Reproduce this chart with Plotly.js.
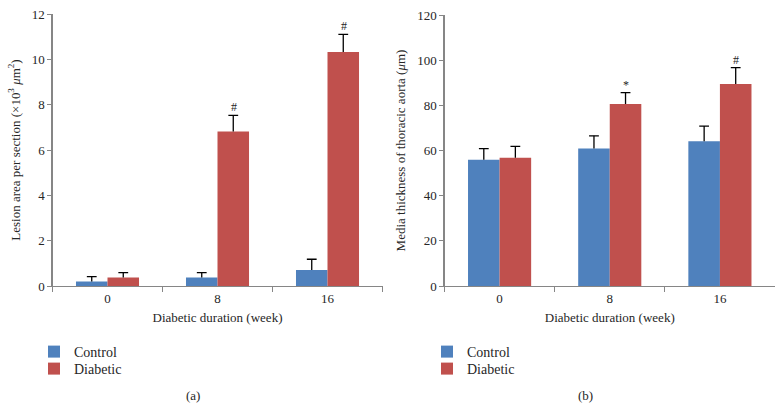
<!DOCTYPE html>
<html>
<head>
<meta charset="utf-8">
<script src="https://cdn.plot.ly/plotly-3.0.1.min.js"></script>
<style>html,body{margin:0;padding:0;background:#fff;}#chart{width:784px;height:409px;}</style>
</head>
<body>
<div id="chart"></div>
<script>
// ---- data ----
const categories = ['0', '8', '16'];
const seriesNames = ['Control', 'Diabetic'];

// (a) lesion area per section (x10^3 um^2)
const lesionControl = [0.20, 0.38, 0.71];
const lesionControlErr = [0.21, 0.21, 0.47];
const lesionDiabetic = [0.38, 6.82, 10.32];
const lesionDiabeticErr = [0.21, 0.71, 0.78];
const lesionMarks = ['', '#', '#'];

// (b) media thickness of thoracic aorta (um)
const mediaControl = [55.9, 60.9, 64.1];
const mediaControlErr = [4.9, 5.6, 6.7];
const mediaDiabetic = [56.8, 80.6, 89.4];
const mediaDiabeticErr = [5.0, 5.0, 7.3];
const mediaMarks = ['', '*', '#'];

const yTicksA = [0, 2, 4, 6, 8, 10, 12];
const yTicksB = [0, 20, 40, 60, 80, 100, 120];

// ---- styling ----
const FONT = "'Liberation Serif', 'Times New Roman', 'DejaVu Serif', serif";
const BLUE = '#4F81BD';
const RED = '#C0504D';
const AXIS = '#868686';
const TXT = '#262626';

function barTrace(name, y, err, color, xa, ya, legend, group) {
  return {
    type: 'bar', name: name, x: categories, y: y,
    xaxis: xa, yaxis: ya, legend: legend, offsetgroup: group,
    marker: {color: color, line: {width: 0}},
    error_y: {type: 'data', symmetric: false, array: err, arrayminus: err.map(() => 0),
              color: '#000', thickness: 1.3, width: 0},
    hoverinfo: 'none'
  };
}
// caps at the end of each error bar
function capTrace(y, err, xa, ya, group) {
  return {
    type: 'scatter', mode: 'markers', x: categories, y: y.map((v, i) => v + err[i]),
    xaxis: xa, yaxis: ya, offsetgroup: group, showlegend: false,
    marker: {symbol: 'line-ew', size: 7, color: '#000', line: {color: '#000', width: 1.3}},
    hoverinfo: 'none'
  };
}

const traces = [
  barTrace(seriesNames[0], lesionControl, lesionControlErr, BLUE, 'x', 'y', 'legend', 'c'),
  barTrace(seriesNames[1], lesionDiabetic, lesionDiabeticErr, RED, 'x', 'y', 'legend2', 'd'),
  barTrace(seriesNames[0], mediaControl, mediaControlErr, BLUE, 'x2', 'y2', 'legend3', 'c'),
  barTrace(seriesNames[1], mediaDiabetic, mediaDiabeticErr, RED, 'x2', 'y2', 'legend4', 'd'),
  capTrace(lesionControl, lesionControlErr, 'x', 'y', 'c'),
  capTrace(lesionDiabetic, lesionDiabeticErr, 'x', 'y', 'd'),
  capTrace(mediaControl, mediaControlErr, 'x2', 'y2', 'c'),
  capTrace(mediaDiabetic, mediaDiabeticErr, 'x2', 'y2', 'd')
];

const annotations = [];
categories.forEach((c, i) => {
  if (lesionMarks[i]) annotations.push({x: i, y: lesionDiabetic[i] + lesionDiabeticErr[i], xref: 'x', yref: 'y',
    text: lesionMarks[i], showarrow: false, xshift: 16, yanchor: 'bottom', yshift: -1, font: {family: FONT, size: 12, color: TXT}});
  if (mediaMarks[i]) annotations.push({x: i, y: mediaDiabetic[i] + mediaDiabeticErr[i], xref: 'x2', yref: 'y2',
    text: mediaMarks[i], showarrow: false, xshift: 16, yanchor: 'bottom', yshift: -1, font: {family: FONT, size: 12, color: TXT}});
});
annotations.push({x: 192.7 / 784, y: 1 - 395 / 409, xref: 'paper', yref: 'paper', text: '(a)', showarrow: false,
  xanchor: 'center', yanchor: 'middle', font: {family: FONT, size: 13, color: TXT}});
annotations.push({x: 585 / 784, y: 1 - 395 / 409, xref: 'paper', yref: 'paper', text: '(b)', showarrow: false,
  xanchor: 'center', yanchor: 'middle', font: {family: FONT, size: 13, color: TXT}});

function xAxis(domain, anchor) {
  return {
    domain: domain, anchor: anchor, type: 'category', range: [-0.5, 2.5],
    showline: true, linecolor: AXIS, linewidth: 1.2, showgrid: false, zeroline: false,
    ticks: 'outside', tickson: 'boundaries', ticklen: 5, tickcolor: AXIS, tickwidth: 1,
    tickfont: {family: FONT, size: 13, color: TXT},
    title: {text: 'Diabetic duration (week)', font: {family: FONT, size: 13, color: TXT}, standoff: 8},
    automargin: false, fixedrange: true
  };
}
function yAxis(domain, anchor, ticks, title) {
  return {
    domain: domain, anchor: anchor, range: [ticks[0], ticks[ticks.length - 1]],
    tickvals: ticks, ticktext: ticks.map(String),
    showline: true, linecolor: AXIS, linewidth: 1.2, showgrid: false, zeroline: false,
    ticks: 'outside', ticklen: 4, tickcolor: AXIS, tickwidth: 1,
    tickfont: {family: FONT, size: 13, color: TXT},
    title: {text: title, font: {family: FONT, size: 13, color: TXT}, standoff: 8},
    automargin: false, fixedrange: true
  };
}
function legendAt(xpx, ypx) {
  return {x: xpx / 784, y: 1 - ypx / 409, xanchor: 'left', yanchor: 'middle', bgcolor: 'rgba(0,0,0,0)',
    font: {family: FONT, size: 14, color: TXT}, itemwidth: 30, borderwidth: 0};
}

const yBottom = (409 - 286) / 409;
const layout = {
  width: 784, height: 409,
  margin: {l: 0, r: 0, t: 0, b: 0},
  paper_bgcolor: '#fff', plot_bgcolor: '#fff',
  barmode: 'group', bargap: 0.427, bargroupgap: 0,
  scattermode: 'group', scattergap: 0.427,
  font: {family: FONT, color: TXT},
  xaxis: xAxis([52.5 / 784, 382.5 / 784], 'y'),
  yaxis: yAxis([yBottom, (409 - 14) / 409], 'x', yTicksA, 'Lesion area per section (×10<sup>3</sup> <i>μ</i>m<sup>2</sup>)'),
  xaxis2: xAxis([444.5 / 784, 775 / 784], 'y2'),
  yaxis2: yAxis([yBottom, (409 - 15) / 409], 'x2', yTicksB, 'Media thickness of thoracic aorta (<i>μ</i>m)'),
  showlegend: true,
  legend: legendAt(34, 352),
  legend2: legendAt(34, 369),
  legend3: legendAt(427, 352),
  legend4: legendAt(427, 369),
  annotations: annotations
};

Plotly.newPlot('chart', traces, layout, {displayModeBar: false, staticPlot: true});
</script>
</body>
</html>
